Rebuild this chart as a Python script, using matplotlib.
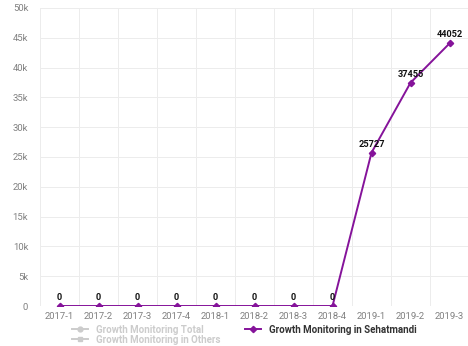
import matplotlib.pyplot as plt
from matplotlib.lines import Line2D

quarters = ['2017-1', '2017-2', '2017-3', '2017-4', '2018-1', '2018-2',
            '2018-3', '2018-4', '2019-1', '2019-2', '2019-3']
sehatmandi = [0, 0, 0, 0, 0, 0, 0, 0, 25727, 37455, 44052]
y_ticks = [0, 5000, 10000, 15000, 20000, 25000, 30000, 35000, 40000, 45000, 50000]
y_labels = ['0', '5k', '10k', '15k', '20k', '25k', '30k', '35k', '40k', '45k', '50k']

purple = '#85139a'
hidden = '#cccccc'

plt.rcParams['font.family'] = ['Roboto', 'DejaVu Sans']

fig = plt.figure(figsize=(4.68, 3.46), dpi=100)
ax = fig.add_axes([40 / 468, 40 / 346, 429 / 468, 298 / 346])

x = list(range(len(quarters)))
ax.plot(x, sehatmandi, color=purple, lw=1.4, marker='D', ms=3.2, zorder=3)
for xi, v in zip(x, sehatmandi):
    ax.annotate(str(v), (xi, v), xytext=(0, 3), textcoords='offset points',
                ha='center', va='bottom', fontsize=6.6, fontweight='bold',
                color='#111111', zorder=4)

ax.set_xlim(-0.5, len(quarters) - 0.5)
ax.set_ylim(0, 50000)
ax.set_yticks(y_ticks)
ax.set_yticklabels(y_labels)
ax.set_xticks(x)
ax.set_xticklabels(quarters)
ax.set_xticks([i + 0.5 for i in range(-1, len(quarters))], minor=True)
ax.tick_params(axis='both', which='both', length=0, labelsize=6.8, colors='#808080')
ax.tick_params(axis='x', pad=4)
ax.tick_params(axis='y', pad=8.5)
ax.grid(axis='y', color='#ececec', lw=0.7)
ax.grid(axis='x', which='minor', color='#ececec', lw=0.7)
for s in ax.spines.values():
    s.set_visible(False)
ax.axhline(0, color='#dddddd', lw=0.7, zorder=1)

handles = [
    Line2D([], [], color=hidden, marker='o', ms=3.5, lw=1.4),
    Line2D([], [], color=hidden, marker='s', ms=3.5, lw=1.4),
    Line2D([], [], color=purple, marker='D', ms=3.2, lw=1.4),
]
labels = ['Growth Monitoring Total', 'Growth Monitoring in Others',
          'Growth Monitoring in Sehatmandi']
leg = fig.legend(handles, labels, ncol=2, loc='center', bbox_to_anchor=(0.522, 0.033),
                 frameon=False, handlelength=1.6, handletextpad=0.8,
                 columnspacing=2.6, labelspacing=0.0,
                 prop={'weight': 'bold', 'size': 7.0})
for t, c in zip(leg.get_texts(), [hidden, hidden, '#333333']):
    t.set_color(c)

fig.savefig('out.png', dpi=100)
